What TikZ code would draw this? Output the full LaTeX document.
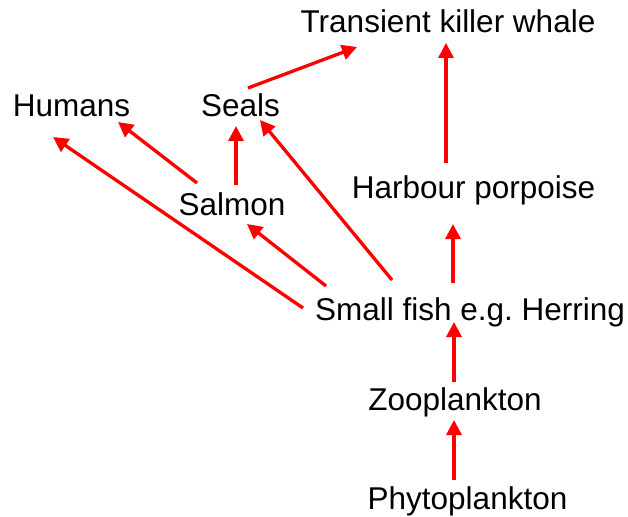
\documentclass[tikz,border=0pt]{standalone}
\usepackage{fontspec}
\setmainfont{Liberation Sans}
\usetikzlibrary{arrows.meta}

\begin{document}
\begin{tikzpicture}[x=1pt, y=-1pt, font=\fontsize{31.5}{36}\selectfont,
    every node/.style={anchor=base, inner sep=0pt},
    eats/.style={-{Triangle[length=15pt, width=15pt]}, red, line width=3.3pt}]
            \useasboundingbox (0,0) rectangle (628,516);

            % Species, placed at their baselines
            \node (Killer whale) at (448,33) {Transient killer whale};
            \node (Humans) at (71.5,117) {Humans};
            \node (Seals) at (240.5,117) {Seals};
            \node (Salmon) at (232,215) {Salmon};
            \node (Porpoise) at (473.5,198) {Harbour porpoise};
            \node (Small fish) at (470,320) {Small fish e.g.\ Herring};
            \node (Zooplankton) at (455,410) {Zooplankton};
            \node (Phytoplankton) at (467.5,509) {Phytoplankton};

            % Arrows point from food to feeder
            \draw[eats] ([shift={(7.5,-29)}]Seals.base) -- ([shift={(-91,14)}]Killer whale.base);
            \draw[eats] ([shift={(-27.5,-35)}]Porpoise.base) -- ([shift={(-2,10)}]Killer whale.base);
            \draw[eats] ([shift={(-35,-32)}]Salmon.base) -- ([shift={(46.5,5)}]Humans.base);
            \draw[eats] ([shift={(4,-30)}]Salmon.base) -- ([shift={(-4.5,9)}]Seals.base);
            \draw[eats] ([shift={(-167,-12)}]Small fish.base) -- ([shift={(-18.5,20)}]Humans.base);
            \draw[eats] ([shift={(-144,-34)}]Small fish.base) -- ([shift={(15,9)}]Salmon.base);
            \draw[eats] ([shift={(-78,-40)}]Small fish.base) -- ([shift={(19.5,3)}]Seals.base);
            \draw[eats] ([shift={(-17,-37)}]Small fish.base) -- ([shift={(-20.5,26)}]Porpoise.base);
            \draw[eats] ([shift={(-1,-28)}]Zooplankton.base) -- ([shift={(-16,2)}]Small fish.base);
            \draw[eats] ([shift={(-13.5,-29)}]Phytoplankton.base) -- ([shift={(-1,10)}]Zooplankton.base);
        \end{tikzpicture}
\end{document}
